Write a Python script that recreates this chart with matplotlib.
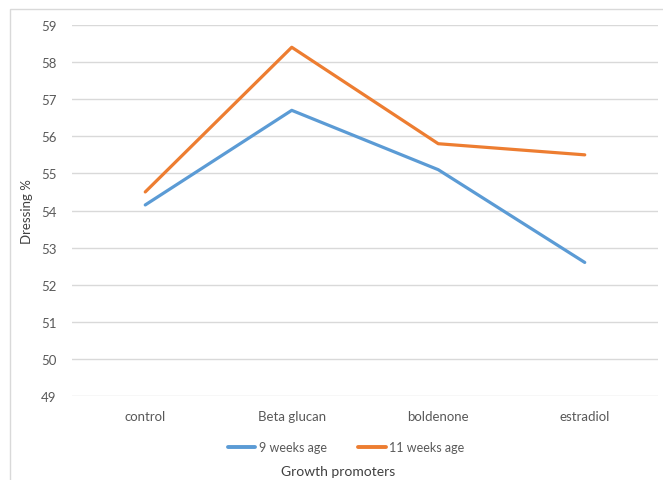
import matplotlib.pyplot as plt
from matplotlib.patches import Rectangle

# ======================================================
# DATA
# ======================================================

promoters = ["control", "Beta glucan", "boldenone", "estradiol"]

week9 = [54.15, 56.7, 55.1, 52.6]

week11 = [54.5, 58.4, 55.8, 55.5]

y_ticks = [49, 50, 51, 52, 53, 54, 55, 56, 57, 58, 59]

# ======================================================
# GRAPH
# ======================================================

plt.rcParams["font.family"] = ["Lato", "DejaVu Sans"]

W, H = 663, 481

fig = plt.figure(figsize=(W / 100, H / 100), dpi=100)

# chart area border
fig.patches.append(Rectangle(
    (10 / W, -0.1), 1.2, 1 - 10 / H + 0.1,
    transform=fig.transFigure, fill=False,
    edgecolor="#d9d9d9", linewidth=1.0
))

ax = fig.add_axes([72 / W, (H - 397) / H, (658 - 72) / W, (397 - 26) / H])

x = list(range(len(promoters)))

ax.plot(x, week9, color="#5B9BD5", linewidth=2.3, label="9 weeks age",
        solid_capstyle="round")
ax.plot(x, week11, color="#ED7D31", linewidth=2.3, label="11 weeks age",
        solid_capstyle="round")

ax.set_xlim(-0.5, len(promoters) - 0.5)
ax.set_ylim(49, 59)
ax.set_yticks(y_ticks)
ax.set_xticks(x)
ax.set_xticklabels(promoters)

ax.yaxis.grid(True, color="#d9d9d9", linewidth=1.0)
ax.set_axisbelow(True)

for s in ax.spines.values():
    s.set_visible(False)

ax.tick_params(axis="both", length=0, labelsize=9.5, colors="#595959")
ax.tick_params(axis="x", pad=10)
ax.tick_params(axis="y", pad=11)

fig.text(27 / W, (H - 212) / H, "Dressing %", rotation=90,
         ha="center", va="center", fontsize=9.5, color="#404040")

fig.text(338 / W, (H - 472) / H, "Growth promoters",
         ha="center", va="center", fontsize=10, color="#404040")

leg = fig.legend(loc="center", bbox_to_anchor=(346 / W, (H - 448) / H),
                 ncol=2, frameon=False, fontsize=9, handlelength=2.2,
                 handletextpad=0.3, columnspacing=2.5)
for t in leg.get_texts():
    t.set_color("#595959")
for line in leg.get_lines():
    line.set_linewidth(2.8)

plt.savefig("out.png", dpi=100)
